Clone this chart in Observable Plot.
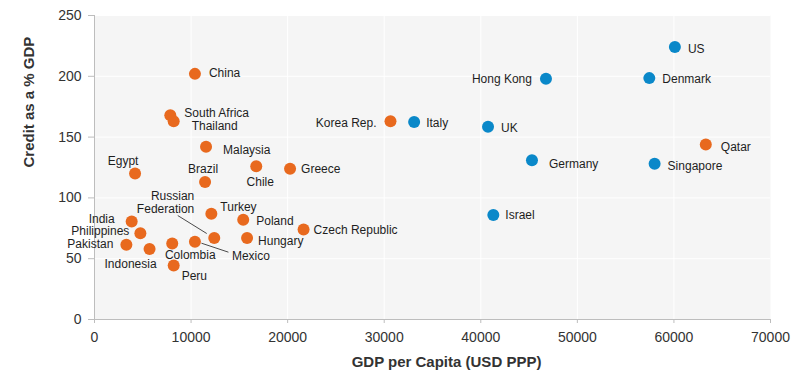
<!DOCTYPE html>
<html>
<head>
<meta charset="utf-8">
<script src="https://cdn.jsdelivr.net/npm/d3@7"></script>
<script src="https://cdn.jsdelivr.net/npm/@observablehq/plot@0.6"></script>
<style>
  html, body { margin: 0; padding: 0; background: #fff; }
  #chart svg { display: block; }
</style>
</head>
<body>
<div id="chart"></div>
<script>
// ---- Data ----
const countries = ["China","South Africa","Thailand","Malaysia","Egypt","Brazil","Chile","Greece","Korea Rep.","Italy","UK","Hong Kong","Denmark","US","Qatar","Germany","Singapore","Israel","Czech Republic","Turkey","Poland","Hungary","Russian Federation","Mexico","Colombia","Peru","India","Philippines","Pakistan","Indonesia"];
const gdpPerCapita = [10400,7850,8200,11550,4200,11450,16750,20250,30650,33100,40750,46750,57450,60100,63300,45300,58000,41300,21650,12100,15400,15800,12400,10400,8050,8200,3850,4750,3300,5700];
const creditPctGdp = [202,168,163,142,120,113,126,124,163,162.5,158.5,198,198.5,224,144,131,128,86,74,87,82,67,67,64,62.5,44.5,80.5,71,61.5,58];
const groups = ["EM","EM","EM","EM","EM","EM","EM","EM","EM","DM","DM","DM","DM","DM","EM","DM","DM","DM","EM","EM","EM","EM","EM","EM","EM","EM","EM","EM","EM","EM"];
const xTicks = [0,10000,20000,30000,40000,50000,60000,70000];
const yTicks = [0,50,100,150,200,250];
const xTitle = "GDP per Capita (USD PPP)";
const yTitle = "Credit as a % GDP";

// ---- Label placement (styling, separate from data) ----
const labelText = {"Russian Federation": "Russian\nFederation"};
const labelPlace = {
  "China": ["start", 14, -1],
  "South Africa": ["start", 14, -3],
  "Thailand": ["start", 18, 4],
  "Malaysia": ["start", 17, 3],
  "Egypt": ["middle", -12, -13],
  "Brazil": ["middle", -2, -14],
  "Chile": ["middle", 4, 15],
  "Greece": ["start", 11, 0],
  "Korea Rep.": ["end", -14, 1],
  "Italy": ["start", 12, 1],
  "UK": ["start", 13, 1],
  "Hong Kong": ["end", -14, 0],
  "Denmark": ["start", 13, 0],
  "US": ["start", 13, 1],
  "Qatar": ["start", 15, 2],
  "Germany": ["start", 17, 3],
  "Singapore": ["start", 13, 2],
  "Israel": ["start", 12, 0],
  "Czech Republic": ["start", 10, 0],
  "Turkey": ["start", 9, -7],
  "Poland": ["start", 13, 1],
  "Hungary": ["start", 11, 3],
  "Russian Federation": ["end", -20, -36],
  "Mexico": ["start", 37, 14],
  "Colombia": ["middle", 18, 11],
  "Peru": ["start", 8, 10],
  "India": ["end", -17, -3.5],
  "Philippines": ["end", -11, -2.5],
  "Pakistan": ["end", -13, -1],
  "Indonesia": ["middle", -19, 15]
};
// leader lines: pixel offsets from the dot [x1, y1, x2, y2]
const leaders = {
  "Russian Federation": [-36, -22, -7, -4],
  "Mexico": [7, 2, 34, 11]
};

const data = countries.map((c, i) => ({
  country: c, gdp: gdpPerCapita[i], credit: creditPctGdp[i], group: groups[i]
}));

const colorFor = {EM: "#e8691e", DM: "#0a88c9"};
const font = "'Liberation Sans', Arial, sans-serif";

function labelMarks(anchor) {
  return data.filter(d => labelPlace[d.country][0] === anchor).map(d => {
    const [a, dx, dy] = labelPlace[d.country];
    return Plot.text([d], {
      x: "gdp", y: "credit",
      text: r => labelText[r.country] || r.country,
      textAnchor: a, dx, dy,
      fontSize: 12, fill: "#1e1e1e", lineHeight: 1.15
    });
  });
}

const leaderMark = (index, scales) => {
  const g = d3.create("svg:g");
  for (const d of data) {
    const off = leaders[d.country];
    if (!off) continue;
    const px = scales.x(d.gdp), py = scales.y(d.credit);
    g.append("line")
      .attr("x1", px + off[0]).attr("y1", py + off[1])
      .attr("x2", px + off[2]).attr("y2", py + off[3])
      .attr("stroke", "#4a4a4a").attr("stroke-width", 1);
  }
  return g.node();
};

const chart = Plot.plot({
  width: 798,
  height: 379,
  marginLeft: 94,
  marginRight: 28,
  marginTop: 15,
  marginBottom: 60,
  style: {fontFamily: font, background: "#fff"},
  x: {domain: [0, 70000]},
  y: {domain: [0, 250]},
  marks: [
    Plot.frame({fill: "#f5f5f5", stroke: null}),
    Plot.gridX(xTicks.slice(1, -1), {stroke: "#fff", strokeOpacity: 1, strokeWidth: 1}),
    Plot.gridY(yTicks.slice(1), {stroke: "#fff", strokeOpacity: 1, strokeWidth: 1}),
    Plot.ruleX([0], {stroke: "#bdbdbd"}),
    Plot.ruleY([0], {stroke: "#bdbdbd"}),
    Plot.axisX(xTicks, {tickSize: 4, tickPadding: 9, stroke: "#bdbdbd", fill: "#333", fontSize: 14, tickFormat: d3.format("d"), label: null}),
    Plot.axisY(yTicks, {tickSize: 6, tickPadding: 7, stroke: "#bdbdbd", fill: "#333", fontSize: 14, label: null}),
    Plot.text([xTitle], {frameAnchor: "bottom", dx: 14, dy: 47, fontSize: 15, fontWeight: "bold", fill: "#333"}),
    Plot.text([yTitle], {frameAnchor: "left", dx: -65, rotate: -90, fontSize: 15, fontWeight: "bold", fill: "#333"}),
    leaderMark,
    Plot.dot(data, {x: "gdp", y: "credit", r: 6, fill: d => colorFor[d.group], stroke: null}),
    ...labelMarks("start"),
    ...labelMarks("middle"),
    ...labelMarks("end")
  ]
});
document.getElementById("chart").appendChild(chart);
</script>
</body>
</html>
